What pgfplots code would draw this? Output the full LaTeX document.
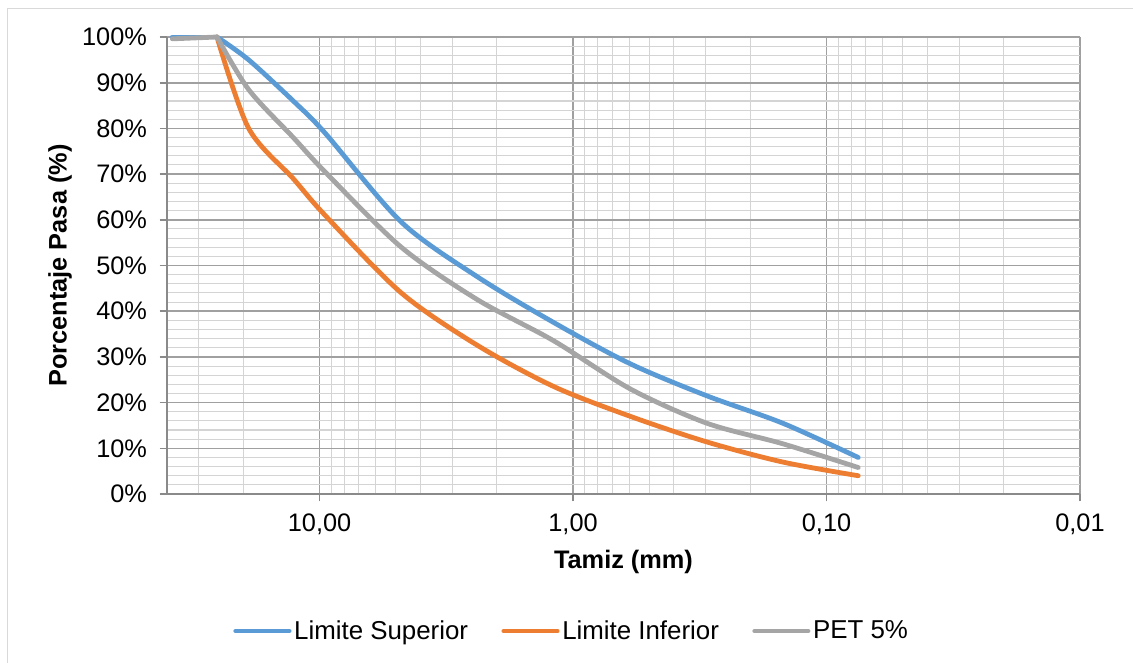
\documentclass[border=0pt]{standalone}
\usepackage{fontspec}
\setmainfont{Liberation Sans}
\usepackage{pgfplots}
\pgfplotsset{compat=1.18}
\definecolor{xlblue}{HTML}{5B9BD5}
\definecolor{xlorange}{HTML}{ED7D31}
\definecolor{xlgray}{HTML}{A5A5A5}
\definecolor{majgrid}{HTML}{A0A0A0}
\definecolor{mingrid}{HTML}{D4D4D4}
\definecolor{axline}{HTML}{8A8A8A}
\definecolor{border}{HTML}{D9D9D9}
\begin{document}
\begin{tikzpicture}
\path[use as bounding box] (-125.25pt,-126pt) rectangle (724.5pt,370.5pt);
\draw[border, line width=0.75pt] (-119.25pt,-130pt) -- (-119.25pt,364.5pt) -- (730pt,364.5pt);
\begin{axis}[
  at={(0pt,0pt)}, anchor=south west,
  scale only axis, width=684.75pt, height=342.75pt,
  xmode=log, x dir=reverse, xmin=0.01, xmax=40,
  ymin=0, ymax=100,
  clip=false,
  /pgf/number format/assume math mode=true,
  xtick={0.01,0.1,1,10},
  xticklabels={{0,01},{0,10},{1,00},{10,00}},
  minor xtick={0.02,0.03,0.04,0.05,0.06,0.07,0.08,0.09,0.2,0.3,0.4,0.5,0.6,0.7,0.8,0.9,2,3,4,5,6,7,8,9,20,30},
  ytick={0,10,20,30,40,50,60,70,80,90,100},
  yticklabels={0\%,10\%,20\%,30\%,40\%,50\%,60\%,70\%,80\%,90\%,100\%},
  minor ytick={2,4,6,8,12,14,16,18,22,24,26,28,32,34,36,38,42,44,46,48,52,54,56,58,62,64,66,68,72,74,76,78,82,84,86,88,92,94,96,98},
  grid=both,
  major grid style={majgrid, line width=1.2pt},
  minor grid style={mingrid, line width=0.8pt},
  axis line style={draw=none},
  tick align=outside,
  major tick length=5.5pt, minor tick length=0pt,
  tick style={axline, line width=1.2pt},
  xtick pos=bottom, ytick pos=left,
  tick label style={font=\fontsize{19}{23}\selectfont, text=black},
  xticklabel style={yshift=-6pt},
  yticklabel style={xshift=-6pt},
  xlabel={Tamiz (mm)},
  ylabel={Porcentaje Pasa (\%)},
  label style={font=\bfseries\fontsize{19}{23}\selectfont},
  xlabel style={at={(axis description cs:0.5,-0.1488)}, anchor=center},
  ylabel style={at={(axis description cs:-0.1172,0.5)}, anchor=center},
  legend style={at={(0.4436,-0.2998)}, anchor=center, draw=none, fill=none,
    legend columns=3, font=\fontsize{19.4}{23}\selectfont,
    /tikz/every even column/.append style={column sep=23pt},
    nodes={inner xsep=2pt, inner ysep=1pt}},
  legend image code/.code={\draw[#1, line width=3.6pt, line cap=round] (0pt,0pt) -- (40pt,0pt);},
  every axis plot/.append style={line width=3.6pt, line join=round, line cap=round, mark=none},
]
\draw[axline, line width=1.5pt] (axis description cs:0,1) -- (axis description cs:0,0) -- (axis description cs:1,0);
\addplot[xlblue, forget plot] coordinates {(38.1,100) (25.4,100)};
\addplot[xlblue, smooth, tension=0.5] coordinates {
(25.4,100) (19.05,95) (12.7,86) (9.52,79) (4.76,59.5) (2.38,47.5) (1.19,37.5) (0.595,28.5) (0.297,21.5) (0.149,15.5) (0.075,8)
};
\addlegendentry{Limite Superior}
\addplot[xlorange, smooth, tension=0.5] coordinates {
(25.4,100) (19.05,80) (12.7,69) (9.52,61) (4.76,44) (2.38,32.5) (1.19,23.5) (0.595,17) (0.297,11.4) (0.149,7) (0.075,4)
};
\addlegendentry{Limite Inferior}
\addplot[xlgray, forget plot] coordinates {(38.1,99.6) (25.4,100)};
\addplot[xlgray, smooth, tension=0.5] coordinates {
(25.4,100) (19.05,88.5) (12.7,78) (9.52,70.5) (4.76,54) (2.38,42.5) (1.19,33.5) (0.595,23) (0.297,15.5) (0.149,11) (0.075,5.8)
};
\addlegendentry{PET 5\%}
\end{axis}
\end{tikzpicture}
\end{document}
